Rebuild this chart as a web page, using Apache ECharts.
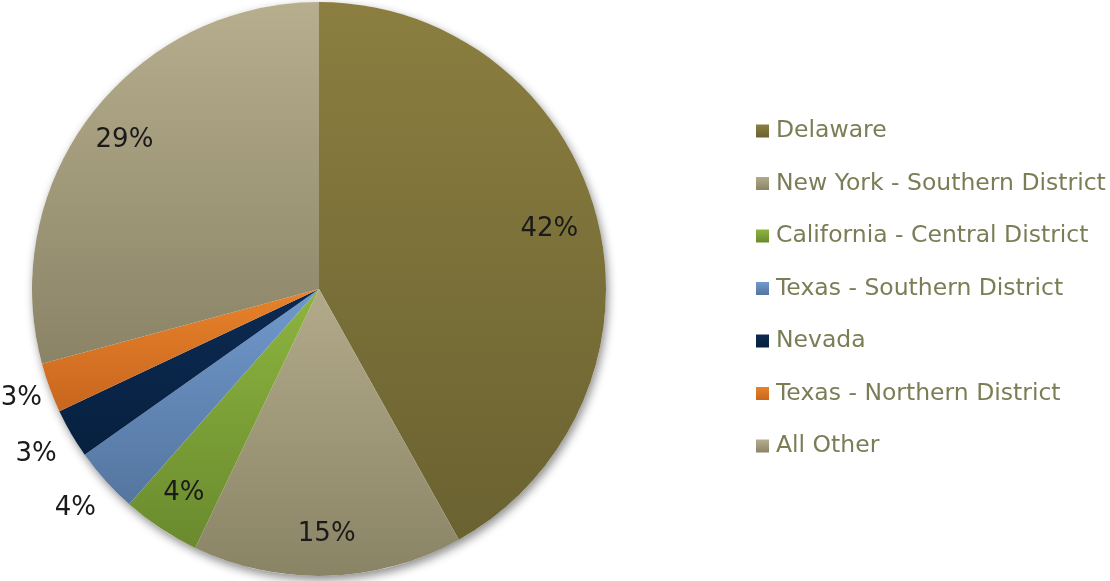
<!DOCTYPE html>
<html>
<head>
<meta charset="utf-8">
<script src="https://cdn.jsdelivr.net/npm/echarts@6/dist/echarts.min.js"></script>
<style>
  html, body { margin: 0; padding: 0; background: #fff; }
  #chart { width: 1110px; height: 581px; }
</style>
</head>
<body>
<div id="chart"></div>
<script>
// 数据
var districts = ['Delaware', 'New York - Southern District', 'California - Central District',
  'Texas - Southern District', 'Nevada', 'Texas - Northern District', 'All Other'];
var shares = [41.9, 15.2, 4.4, 3.7, 2.8, 2.8, 29.2];
// 颜色: 上 -> 下
var topColors = ['#8b7e40', '#b2aa8a', '#8db53f', '#7099cc', '#0c2a52', '#e8822a', '#b6ae8d'];
var bottomColors = ['#6a6231', '#8a8466', '#6a8a2e', '#54759f', '#07203f', '#c8661e', '#8a8366'];

var chart = echarts.init(document.getElementById('chart'));

var center = [319, 289];
var R = 287;
// 标签放在哪个环: 0 内部, 1 外面, 2 外面(靠近边缘), 3 内部(稍靠里)
var labelRing = [3, 0, 0, 1, 1, 2, 0];
var ringRadius = [[200, 284], [300, 349], [290, 338], [190, 280]];

var pctFormatter = function(p) {
  return Math.round(p.percent) + '%';
};

var labelStyle = {
  position: 'inside',
  formatter: pctFormatter,
  fontFamily: 'DejaVu Sans',
  fontSize: 26,
  color: '#1a1a1a',
  padding: [6, 0, 0, 0],
  overflow: 'none'
};

var sliceData = districts.map(function(name, i) {
  return {
    name: name,
    value: shares[i],
    itemStyle: {
      color: new echarts.graphic.LinearGradient(0, 0, 0, 1, [
        { offset: 0, color: topColors[i] },
        { offset: 1, color: bottomColors[i] }
      ])
    }
  };
});

// 标签用透明环, 只显示对应的
function labelSeries(ring) {
  return {
    type: 'pie',
    center: center,
    radius: ringRadius[ring],
    startAngle: 90,
    clockwise: true,
    z: 3,
    silent: true,
    itemStyle: { color: 'rgba(0,0,0,0)' },
    label: labelStyle,
    labelLine: { show: false },
    emphasis: { disabled: true },
    data: districts.map(function(name, i) {
      return {
        name: name,
        value: shares[i],
        label: { show: labelRing[i] === ring }
      };
    })
  };
}

chart.setOption({
  animation: false,
  legend: {
    orient: 'vertical',
    left: 751,
    top: 114,
    itemWidth: 13,
    itemHeight: 13,
    itemGap: 28.5,
    icon: 'rect',
    data: districts,
    textStyle: {
      fontFamily: 'DejaVu Sans',
      fontSize: 23.5,
      lineHeight: 24,
      color: '#7b7d55',
      padding: [0, 0, 0, 2]
    }
  },
  series: [
    {
      // 阴影底盘
      type: 'pie',
      center: center,
      radius: R,
      silent: true,
      z: 1,
      label: { show: false },
      labelLine: { show: false },
      itemStyle: {
        color: '#fff',
        shadowBlur: 10,
        shadowOffsetX: 2,
        shadowOffsetY: 4,
        shadowColor: 'rgba(0,0,0,0.45)'
      },
      data: [{ name: 'bg', value: 1 }]
    },
    {
      type: 'pie',
      center: center,
      radius: R,
      startAngle: 90,
      clockwise: true,
      z: 2,
      itemStyle: { borderWidth: 0 },
      label: { show: false },
      labelLine: { show: false },
      emphasis: { disabled: true },
      data: sliceData
    },
    labelSeries(0),
    labelSeries(1),
    labelSeries(2),
    labelSeries(3)
  ]
});
</script>
</body>
</html>
